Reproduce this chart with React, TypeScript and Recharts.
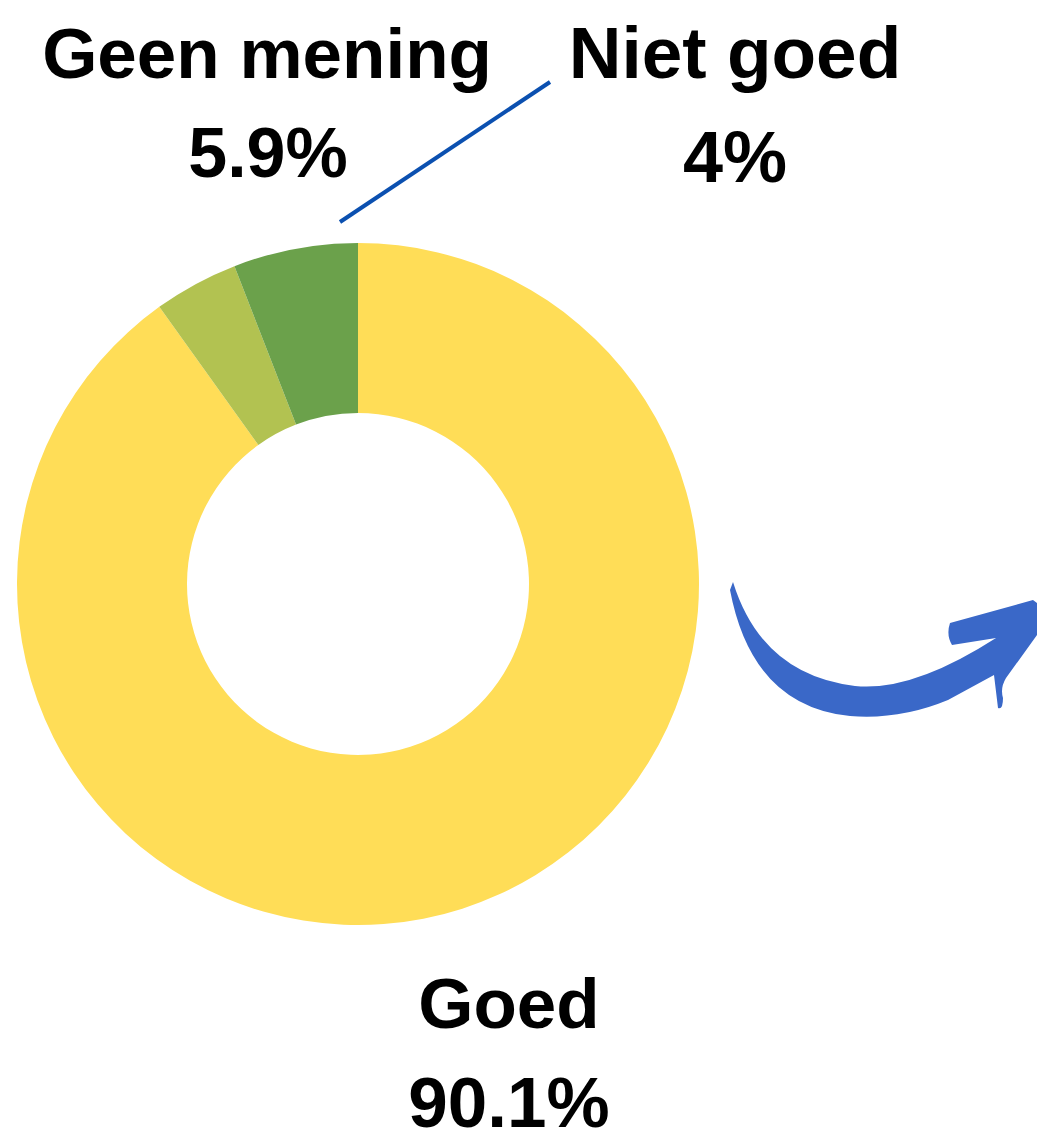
import { PieChart, Pie, Cell } from "recharts";

const categories = ["Goed", "Niet goed", "Geen mening"];
const shares = [90.1, 4, 5.9];
const shareLabels = ["90.1%", "4%", "5.9%"];
const colors = ["#FFDD57", "#B2C251", "#6BA14B"];

const chartData = categories.map((name, i) => ({ name, value: shares[i] }));

const FONT = "'Liberation Sans', Arial, sans-serif";

export default function App() {
  return (
    <div style={{ position: "absolute", left: 0, top: 0, width: 1037, height: 1133, background: "#fff" }}>
      <PieChart width={1037} height={1133} margin={{ top: 0, right: 0, bottom: 0, left: 0 }}>
        <Pie
          data={chartData}
          dataKey="value"
          nameKey="name"
          cx={358}
          cy={584}
          innerRadius={171}
          outerRadius={341}
          startAngle={90}
          endAngle={-270}
          stroke="none"
          isAnimationActive={false}
        >
          {chartData.map((d, i) => (
            <Cell key={d.name} fill={colors[i]} />
          ))}
        </Pie>
      </PieChart>
      <svg
        width={1037}
        height={1133}
        style={{ position: "absolute", left: 0, top: 0, pointerEvents: "none" }}
      >
        <line x1={340} y1={222} x2={550} y2={82} stroke="#0B50B0" strokeWidth={4} />
        <g fontFamily={FONT} fontWeight="bold" fill="#000" textAnchor="middle">
          <text x={267} y={78} fontSize={71}>{categories[2]}</text>
          <text x={268} y={177} fontSize={70}>{shareLabels[2]}</text>
          <text x={735} y={78} fontSize={73}>{categories[1]}</text>
          <text x={735} y={182} fontSize={72}>{shareLabels[1]}</text>
          <text x={509} y={1028} fontSize={71}>{categories[0]}</text>
          <text x={509} y={1127} fontSize={71}>{shareLabels[0]}</text>
        </g>
        <path
          d="M 733 582 Q 762 675 855 686 Q 912 692 996 638 L 952 645 Q 946 635 950 623 L 1033 600 L 1037 603 L 1037 635 L 1006 678 Q 1000 688 1003 698 Q 1003 710 998 708 L 994 675 L 948 700 Q 900 720 850 716 Q 752 706 730 590 Z"
          fill="#3A68C8"
        />
      </svg>
    </div>
  );
}
